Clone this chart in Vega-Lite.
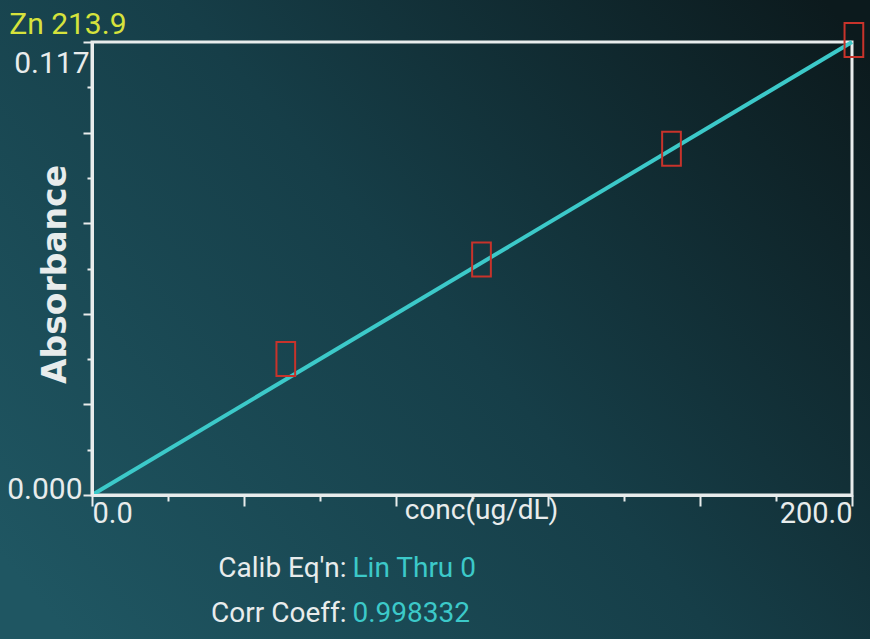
{
  "$schema": "https://vega.github.io/schema/vega-lite/v6.json",
  "width": 760,
  "height": 453,
  "autosize": "none",
  "padding": {"left": 92, "top": 42, "right": 18, "bottom": 144},
  "background": "#143740",
  "config": {
    "view": {"stroke": null},
    "font": "Roboto"
  },
  "datasets": {
    "points": [
      {"conc": 51, "abs": 0.0351},
      {"conc": 102.5, "abs": 0.0608},
      {"conc": 152.5, "abs": 0.0894},
      {"conc": 200.5, "abs": 0.1175}
    ],
    "fit": [
      {"conc": 0, "abs": 0},
      {"conc": 200, "abs": 0.117}
    ],
    "notes": [
      {"labels": ["Calib Eq'n:", "Corr Coeff:"], "values": ["Lin Thru 0", "0.998332"]}
    ],
    "heading": [
      {"text": "Zn 213.9"}
    ]
  },
  "layer": [
    {
      "data": {"values": [{}]},
      "mark": {
        "type": "rect",
        "clip": false,
        "fill": {
          "gradient": "linear",
          "x1": 0, "y1": 0.8, "x2": 1, "y2": 0.15,
          "stops": [
            {"offset": 0, "color": "#1f5662"},
            {"offset": 0.5, "color": "#163e48"},
            {"offset": 1, "color": "#0c1a1d"}
          ]
        }
      },
      "encoding": {
        "x": {"datum": -30, "type": "quantitative", "scale": {"domain": [0, 200], "nice": false, "zero": false}},
        "x2": {"datum": 210},
        "y": {"datum": -0.045, "type": "quantitative", "scale": {"domain": [0, 0.117], "nice": false, "zero": false}},
        "y2": {"datum": 0.135}
      }
    },
    {
      "data": {"values": [{}]},
      "mark": {"type": "rect", "fill": null, "fillOpacity": 0, "stroke": "#e8ecec", "strokeWidth": 3, "clip": false},
      "encoding": {
        "x": {"datum": 0, "type": "quantitative"},
        "x2": {"datum": 200},
        "y": {"datum": 0, "type": "quantitative"},
        "y2": {"datum": 0.117}
      }
    },
    {
      "data": {"name": "fit"},
      "mark": {"type": "line", "color": "#3cc9c9", "strokeWidth": 4, "clip": false},
      "encoding": {
        "x": {
          "field": "conc", "type": "quantitative",
          "scale": {"domain": [0, 200], "nice": false, "zero": false},
          "axis": {
            "zindex": 1,
            "values": [0, 20, 40, 60, 80, 100, 120, 140, 160, 180, 200],
            "labelExpr": "datum.value == 0 ? '0.0' : (datum.value == 200 ? '200.0' : '')",
            "labelFlush": true,
            "labelFont": "Roboto",
            "labelFontSize": 29,
            "labelColor": "#e8ecec",
            "labelPadding": -7,
            "labelBaseline": "top",
            "domainColor": "#e8ecec",
            "domainWidth": 3,
            "tickColor": "#e8ecec",
            "tickWidth": 2,
            "tickSize": {"condition": {"test": "datum.value % 40 == 0", "value": 11}, "value": 6},
            "grid": false,
            "title": "conc(ug/dL)",
            "titleFont": "Roboto",
            "titleFontSize": 28,
            "titleFontWeight": "normal",
            "titleColor": "#e8ecec",
            "titleX": 389,
            "titleY": 23,
            "titleBaseline": "alphabetic"
          }
        },
        "y": {
          "field": "abs", "type": "quantitative",
          "scale": {"domain": [0, 0.117], "nice": false, "zero": false},
          "axis": {
            "zindex": 1,
            "values": [0, 0.0117, 0.0234, 0.0351, 0.0468, 0.0585, 0.0702, 0.0819, 0.0936, 0.1053, 0.117],
            "labelExpr": "datum.value == 0 ? '0.000' : (datum.value == 0.117 ? '0.117' : '')",
            "labelFlush": false,
            "labelBaseline": "middle",
            "labelOffset": {"condition": {"test": "datum.value == 0", "value": -6}, "value": 21},
            "labelPadding": {"condition": {"test": "datum.value == 0", "value": 1}, "value": -6},
            "labelFont": "Roboto",
            "labelFontSize": 30,
            "labelColor": "#e8ecec",
            "domainColor": "#e8ecec",
            "domainWidth": 3,
            "tickColor": "#e8ecec",
            "tickWidth": 2,
            "tickSize": {"condition": {"test": "abs(datum.value / 0.0234 - round(datum.value / 0.0234)) < 0.01", "value": 9}, "value": 5},
            "grid": false,
            "title": "Absorbance",
            "titleFont": "DejaVu Sans",
            "titleFontSize": 33,
            "titleFontWeight": "bold",
            "titleColor": "#e8ecec",
            "titleX": -37,
            "titleY": 232,
            "titleBaseline": "middle",
            "titleAngle": -90
          }
        }
      }
    },
    {
      "data": {"name": "points"},
      "mark": {
        "type": "point",
        "shape": "M-0.55,-1 L0.55,-1 L0.55,1 L-0.55,1 Z",
        "size": 1156,
        "filled": false,
        "stroke": "#c8332b",
        "strokeWidth": 2,
        "opacity": 1,
        "clip": false
      },
      "encoding": {
        "x": {"field": "conc", "type": "quantitative"},
        "y": {"field": "abs", "type": "quantitative"}
      }
    },
    {
      "data": {"name": "heading"},
      "mark": {"type": "text", "align": "left", "baseline": "alphabetic", "font": "Roboto", "fontSize": 30, "color": "#d6e23c", "clip": false},
      "encoding": {
        "x": {"datum": -21.8, "type": "quantitative"},
        "y": {"datum": 0.1191, "type": "quantitative"},
        "text": {"field": "text"}
      }
    },
    {
      "data": {"name": "notes"},
      "mark": {"type": "text", "align": "right", "baseline": "alphabetic", "font": "Roboto", "fontSize": 28, "lineHeight": 45, "color": "#e8ecec", "clip": false, "dx": -2},
      "encoding": {
        "x": {"datum": 67.5, "type": "quantitative"},
        "y": {"datum": -0.0212, "type": "quantitative"},
        "text": {"field": "labels"}
      }
    },
    {
      "data": {"name": "notes"},
      "mark": {"type": "text", "align": "left", "baseline": "alphabetic", "font": "Roboto", "fontSize": 28, "lineHeight": 45, "color": "#3cc9c9", "clip": false, "dx": 4},
      "encoding": {
        "x": {"datum": 67.5, "type": "quantitative"},
        "y": {"datum": -0.0212, "type": "quantitative"},
        "text": {"field": "values"}
      }
    }
  ]
}
